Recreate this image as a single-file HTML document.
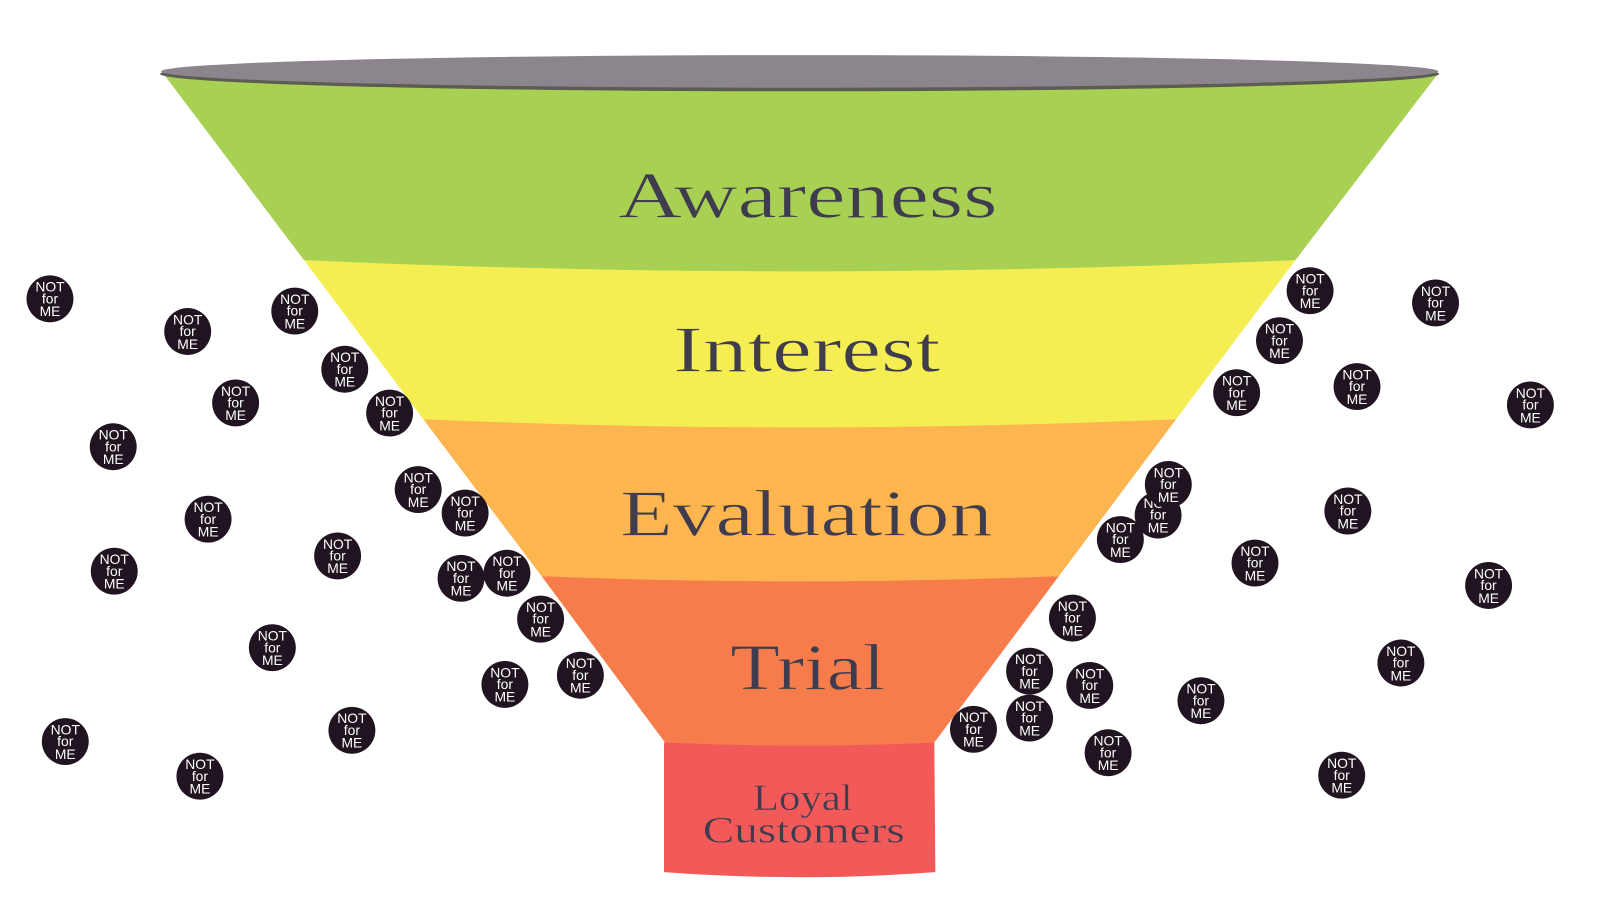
<!DOCTYPE html>
<html><head><meta charset="utf-8"><style>
html,body{margin:0;padding:0;background:#fff;width:1600px;height:900px;overflow:hidden}
svg{display:block}
.t{font-family:"Liberation Serif",serif;fill:#3e3c4e;stroke-width:.7px}
.b circle{fill:#1f1420}
.b text{font-family:"Liberation Sans",sans-serif;font-size:13.6px;fill:#fff;text-anchor:middle}
</style></head><body>
<svg width="1600" height="900" viewBox="0 0 1600 900" xmlns="http://www.w3.org/2000/svg">
<g transform="scale(1.02)">
<path d="M651 728H916L917 855Q784 865 651 855Z" fill="#f25a5a"/>
<path d="M531 565H1038L916 728Q784 734 652 728Z" fill="#f67d4b"/>
<path d="M415 411H1153L1038 565Q784 575 531 565Z" fill="#fdb64f"/>
<path d="M298 255H1270L1153 411Q784 427 415 411Z" fill="#f5ee52"/>
<path d="M160 72H1410L1270 255Q784 277 298 255Z" fill="#a8d153"/>
<ellipse cx="784" cy="72.5" rx="627" ry="17" fill="#5c5c52"/>
<ellipse cx="784" cy="70" rx="626" ry="16" fill="#8d858e"/>
<text class="t" stroke="#a8d153" x="606" y="213" font-size="64" textLength="372" lengthAdjust="spacingAndGlyphs">Awareness</text>
<text class="t" stroke="#f5ee52" x="660" y="364" font-size="64" textLength="262" lengthAdjust="spacingAndGlyphs">Interest</text>
<text class="t" stroke="#fdb64f" x="608" y="525" font-size="64" textLength="365" lengthAdjust="spacingAndGlyphs">Evaluation</text>
<text class="t" stroke="#f67d4b" x="716" y="676" font-size="64" textLength="152" lengthAdjust="spacingAndGlyphs">Trial</text>
<text class="t" stroke="#f25a5a" style="stroke-width:.4px" x="738" y="794" font-size="36" textLength="98" lengthAdjust="spacingAndGlyphs">Loyal</text>
<text class="t" stroke="#f25a5a" style="stroke-width:.4px" x="689" y="826" font-size="36" textLength="198" lengthAdjust="spacingAndGlyphs">Customers</text>
<g class="b">
<g transform="translate(49 293)"><circle r="23"/><text y="-7">NOT</text><text y="4.5">for</text><text y="17">ME</text></g>
<g transform="translate(184 325)"><circle r="23"/><text y="-7">NOT</text><text y="4.5">for</text><text y="17">ME</text></g>
<g transform="translate(289 305)"><circle r="23"/><text y="-7">NOT</text><text y="4.5">for</text><text y="17">ME</text></g>
<g transform="translate(338 362)"><circle r="23"/><text y="-7">NOT</text><text y="4.5">for</text><text y="17">ME</text></g>
<g transform="translate(231 395)"><circle r="23"/><text y="-7">NOT</text><text y="4.5">for</text><text y="17">ME</text></g>
<g transform="translate(382 405)"><circle r="23"/><text y="-7">NOT</text><text y="4.5">for</text><text y="17">ME</text></g>
<g transform="translate(111 438)"><circle r="23"/><text y="-7">NOT</text><text y="4.5">for</text><text y="17">ME</text></g>
<g transform="translate(410 480)"><circle r="23"/><text y="-7">NOT</text><text y="4.5">for</text><text y="17">ME</text></g>
<g transform="translate(456 503)"><circle r="23"/><text y="-7">NOT</text><text y="4.5">for</text><text y="17">ME</text></g>
<g transform="translate(204 509)"><circle r="23"/><text y="-7">NOT</text><text y="4.5">for</text><text y="17">ME</text></g>
<g transform="translate(331 545)"><circle r="23"/><text y="-7">NOT</text><text y="4.5">for</text><text y="17">ME</text></g>
<g transform="translate(452 567)"><circle r="23"/><text y="-7">NOT</text><text y="4.5">for</text><text y="17">ME</text></g>
<g transform="translate(497 562)"><circle r="23"/><text y="-7">NOT</text><text y="4.5">for</text><text y="17">ME</text></g>
<g transform="translate(112 560)"><circle r="23"/><text y="-7">NOT</text><text y="4.5">for</text><text y="17">ME</text></g>
<g transform="translate(530 607)"><circle r="23"/><text y="-7">NOT</text><text y="4.5">for</text><text y="17">ME</text></g>
<g transform="translate(267 635)"><circle r="23"/><text y="-7">NOT</text><text y="4.5">for</text><text y="17">ME</text></g>
<g transform="translate(495 671)"><circle r="23"/><text y="-7">NOT</text><text y="4.5">for</text><text y="17">ME</text></g>
<g transform="translate(569 662)"><circle r="23"/><text y="-7">NOT</text><text y="4.5">for</text><text y="17">ME</text></g>
<g transform="translate(345 716)"><circle r="23"/><text y="-7">NOT</text><text y="4.5">for</text><text y="17">ME</text></g>
<g transform="translate(64 727)"><circle r="23"/><text y="-7">NOT</text><text y="4.5">for</text><text y="17">ME</text></g>
<g transform="translate(196 761)"><circle r="23"/><text y="-7">NOT</text><text y="4.5">for</text><text y="17">ME</text></g>
</g>
<g class="b" transform="translate(.4 0)">
<g transform="translate(1284 285)"><circle r="23"/><text y="-7">NOT</text><text y="4.5">for</text><text y="17">ME</text></g>
<g transform="translate(1407 297)"><circle r="23"/><text y="-7">NOT</text><text y="4.5">for</text><text y="17">ME</text></g>
<g transform="translate(1254 334)"><circle r="23"/><text y="-7">NOT</text><text y="4.5">for</text><text y="17">ME</text></g>
<g transform="translate(1212 385)"><circle r="23"/><text y="-7">NOT</text><text y="4.5">for</text><text y="17">ME</text></g>
<g transform="translate(1330 379)"><circle r="23"/><text y="-7">NOT</text><text y="4.5">for</text><text y="17">ME</text></g>
<g transform="translate(1500 397)"><circle r="23"/><text y="-7">NOT</text><text y="4.5">for</text><text y="17">ME</text></g>
<g transform="translate(1135 505)"><circle r="23"/><text y="-7">NOT</text><text y="4.5">for</text><text y="17">ME</text></g>
<g transform="translate(1145 475)"><circle r="23"/><text y="-7">NOT</text><text y="4.5">for</text><text y="17">ME</text></g>
<g transform="translate(1098 529)"><circle r="23"/><text y="-7">NOT</text><text y="4.5">for</text><text y="17">ME</text></g>
<g transform="translate(1321 501)"><circle r="23"/><text y="-7">NOT</text><text y="4.5">for</text><text y="17">ME</text></g>
<g transform="translate(1230 552)"><circle r="23"/><text y="-7">NOT</text><text y="4.5">for</text><text y="17">ME</text></g>
<g transform="translate(1459 574)"><circle r="23"/><text y="-7">NOT</text><text y="4.5">for</text><text y="17">ME</text></g>
<g transform="translate(1051 606)"><circle r="23"/><text y="-7">NOT</text><text y="4.5">for</text><text y="17">ME</text></g>
<g transform="translate(1373 650)"><circle r="23"/><text y="-7">NOT</text><text y="4.5">for</text><text y="17">ME</text></g>
<g transform="translate(1009 658)"><circle r="23"/><text y="-7">NOT</text><text y="4.5">for</text><text y="17">ME</text></g>
<g transform="translate(1068 672)"><circle r="23"/><text y="-7">NOT</text><text y="4.5">for</text><text y="17">ME</text></g>
<g transform="translate(1177 687)"><circle r="23"/><text y="-7">NOT</text><text y="4.5">for</text><text y="17">ME</text></g>
<g transform="translate(1009 704)"><circle r="23"/><text y="-7">NOT</text><text y="4.5">for</text><text y="17">ME</text></g>
<g transform="translate(954 715)"><circle r="23"/><text y="-7">NOT</text><text y="4.5">for</text><text y="17">ME</text></g>
<g transform="translate(1086 738)"><circle r="23"/><text y="-7">NOT</text><text y="4.5">for</text><text y="17">ME</text></g>
<g transform="translate(1315 760)"><circle r="23"/><text y="-7">NOT</text><text y="4.5">for</text><text y="17">ME</text></g>
</g>
</g>
</svg>
</body></html>
